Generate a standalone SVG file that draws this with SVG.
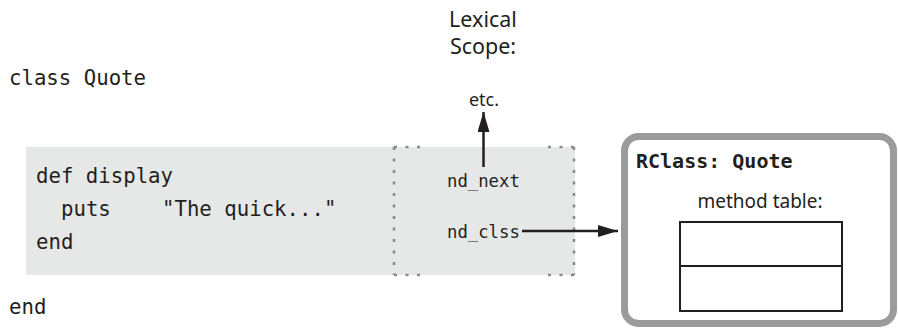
<svg xmlns="http://www.w3.org/2000/svg" width="898" height="330" viewBox="0 0 898 330">
<defs>
<style>
.mono{font-family:"DejaVu Sans Mono","Liberation Mono",monospace;fill:#231f20}
.code{font-size:20.7px}
.fld{font-size:17.3px}
.sans{font-family:"Noto Sans","Liberation Sans",sans-serif;fill:#231f20}
.dot{stroke:#8a8a8a;stroke-width:2.5;stroke-dasharray:3 8.5;fill:none}
.conn{stroke:#231f20;stroke-width:2.5;fill:none}
</style>
<marker id="ah" markerUnits="userSpaceOnUse" viewBox="0 0 20 12" refX="20" refY="6" markerWidth="20" markerHeight="12" orient="auto">
<path d="M0,0 L20,6 L0,12 Z" fill="#231f20"/>
</marker>
</defs>
<rect width="898" height="330" fill="#ffffff"/>
<g id="classdef">
<text class="mono code" x="9" y="85">class Quote</text>
<text class="mono code" x="9" y="314">end</text>
</g>
<g id="method">
<rect x="26" y="147" width="549" height="128" fill="#e6e7e7"/>
<text class="mono code" x="36" y="183">def display</text>
<text class="mono code" x="61" y="216">puts</text>
<text class="mono code" x="162" y="216">"The quick..."</text>
<text class="mono code" x="36" y="249">end</text>
</g>
<g id="node">
<path class="dot" d="M394,147 L420,147 M394,147 L394,275 M394,275 L420,275"/>
<path class="dot" d="M574,147 L548,147 M574,147 L574,275 M574,275 L548,275"/>
<text class="mono fld" x="447" y="187">nd_next</text>
<text class="mono fld" x="447" y="238">nd_clss</text>
</g>
<g id="scope">
<text class="sans" font-size="21.5" text-anchor="middle" x="483" y="27">Lexical</text>
<text class="sans" font-size="21.5" text-anchor="middle" x="483" y="54">Scope:</text>
<text class="sans" font-size="18" text-anchor="middle" x="484" y="106">etc.</text>
</g>
<g id="rclass">
<rect x="624.5" y="136.5" width="269" height="187" rx="14" ry="14" fill="#ffffff" stroke="#9b9b9b" stroke-width="7"/>
<text class="mono" font-size="20" font-weight="bold" x="636" y="168">RClass: Quote</text>
<text class="sans" font-size="19" text-anchor="middle" x="760" y="208">method table:</text>
<rect x="680" y="222" width="162" height="89" fill="none" stroke="#231f20" stroke-width="2"/>
<line x1="680" y1="266" x2="842" y2="266" stroke="#231f20" stroke-width="2"/>
</g>
<g id="connectors">
<line class="conn" x1="483.5" y1="167" x2="483.5" y2="112" marker-end="url(#ah)"/>
<line class="conn" x1="522" y1="231" x2="618" y2="231" marker-end="url(#ah)"/>
</g>
</svg>
